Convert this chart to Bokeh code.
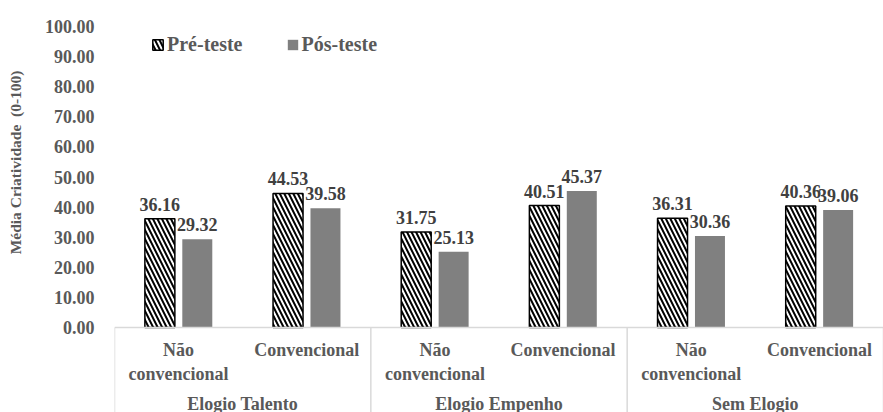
from bokeh.plotting import figure
from bokeh.models import (ColumnDataSource, FixedTicker, NumeralTickFormatter, Span,
                          Legend, LegendItem, Title)
from bokeh.core.properties import value
from bokeh.embed import file_html
from bokeh.resources import INLINE

groups = ["Elogio Talento", "Elogio Empenho", "Sem Elogio"]
subcats = ["Não\nconvencional", "Convencional"]
pre_teste = [36.16, 44.53, 31.75, 40.51, 36.31, 40.36]
pos_teste = [29.32, 39.58, 25.13, 45.37, 30.36, 39.06]
y_ticks = [0, 10, 20, 30, 40, 50, 60, 70, 80, 90, 100]
series_names = ["Pré-teste", "Pós-teste"]
y_title = "Média Criatividade\u00a0\u00a0(0-100)"

FONT = "Liberation Serif"
W, H = 883, 412
LEFT, TOP = 114, 26
frame_h = H - TOP
px_per_unit = 3.01
y_end = 100
y_start = y_end - frame_h / px_per_unit

n_sub = len(groups) * len(subcats)
centers = [k + 0.5 for k in range(n_sub)]
bar_w = 0.234
off = 0.146

p = figure(width=W, height=H, x_range=(0, n_sub), y_range=(y_start, y_end),
           output_backend="svg", toolbar_location=None, x_axis_location=None,
           min_border_left=LEFT, min_border_right=0, min_border_top=TOP, min_border_bottom=0)
p.outline_line_color = None
p.xgrid.visible = False
p.ygrid.visible = False
p.background_fill_color = "white"

src = ColumnDataSource(dict(
    xpre=[c - off for c in centers], xpos=[c + off for c in centers],
    pre=pre_teste, pos=pos_teste,
    lpre=[f"{v:.2f}" for v in pre_teste], lpos=[f"{v:.2f}" for v in pos_teste]))

r_pre = p.vbar(x="xpre", top="pre", bottom=0, width=bar_w, source=src,
               fill_color="white", line_color="black", line_width=1.5,
               hatch_pattern="\\", hatch_color="black", hatch_weight=2, hatch_scale=9)
r_pos = p.vbar(x="xpos", top="pos", bottom=0, width=bar_w, source=src,
               fill_color="#808080", line_color=None)

for xcol, ycol, lcol in (("xpre", "pre", "lpre"), ("xpos", "pos", "lpos")):
    p.text(x=xcol, y=ycol, text=lcol, source=src, text_align="center", text_baseline="bottom",
           y_offset=-8, text_font=value(FONT), text_font_style="bold", text_font_size="18px",
           text_color="#404040")

# zero line and group separators
p.add_layout(Span(location=0, dimension="width", line_color="#d9d9d9", line_width=1.5))
bounds = [g * len(subcats) for g in range(len(groups) + 1)]
p.segment(x0=bounds, y0=[0] * len(bounds), x1=bounds, y1=[y_start] * len(bounds),
          line_color="#d9d9d9", line_width=1.5)

# category labels
sub_labels = [subcats[k % len(subcats)] for k in range(n_sub)]
p.text(x=centers, y=[0] * n_sub, text=sub_labels, text_align="center", text_baseline="top",
       y_offset=12, text_font=value(FONT), text_font_style="bold", text_font_size="18px",
       text_color="#595959", text_line_height=1.2)
group_centers = [(bounds[i] + bounds[i + 1]) / 2 for i in range(len(groups))]
p.text(x=group_centers, y=[0] * len(groups), text=groups, text_align="center",
       text_baseline="top", y_offset=66, text_font=value(FONT), text_font_style="bold",
       text_font_size="18px", text_color="#595959")

# y axis
ax = p.yaxis[0]
ax.ticker = FixedTicker(ticks=y_ticks)
ax.formatter = NumeralTickFormatter(format="0.00")
ax.axis_line_color = None
ax.major_tick_line_color = None
ax.minor_tick_line_color = None
ax.major_label_standoff = 14
ax.major_label_text_font = FONT
ax.major_label_text_font_style = "bold"
ax.major_label_text_font_size = "18px"
ax.major_label_text_color = "#595959"
ax.axis_label = " "
ax.axis_label_text_font_size = "2px"
ax.axis_label_standoff = 13

p.add_layout(Title(text=y_title, align="right", offset=44, text_font=FONT,
                   text_font_style="bold", text_font_size="15.5px", text_color="#595959",
                   standoff=0), "left")

legend = Legend(items=[LegendItem(label=series_names[0], renderers=[r_pre]),
                       LegendItem(label=series_names[1], renderers=[r_pos])],
                orientation="horizontal", location=(37, 356),
                background_fill_alpha=0, border_line_color=None, padding=0, margin=0,
                spacing=43, glyph_width=13, glyph_height=13, label_standoff=3,
                label_text_font=FONT, label_text_font_style="bold",
                label_text_font_size="20px", label_text_color="#595959")
p.add_layout(legend)

open("out.html", "w").write(file_html(p, INLINE))
